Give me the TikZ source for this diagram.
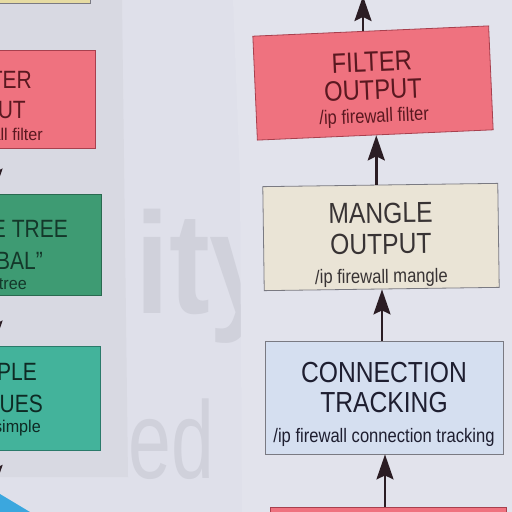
\documentclass[tikz,border=0pt]{standalone}
\usepackage{fontspec}
\setmainfont{Liberation Sans}
\newfontfamily\hdf[FakeStretch=0.85]{Liberation Sans}
\newfontfamily\hdl[FakeStretch=0.84]{Liberation Sans}
\newfontfamily\sbl[FakeStretch=0.95]{Liberation Sans}
\newfontfamily\wmb[FakeStretch=0.85]{Liberation Sans}
\newfontfamily\wmr[FakeStretch=0.7]{Liberation Sans}
\usetikzlibrary{arrows.meta}
\definecolor{midpaper}{HTML}{DFE0EA}
\definecolor{leftpaper}{HTML}{D8D9E2}
\definecolor{rightpaper}{HTML}{E2E3EC}
\definecolor{wmc}{HTML}{D0D1DB}
\definecolor{pinkf}{HTML}{EF727F}
\definecolor{pinkd}{HTML}{A8404E}
\definecolor{pinkt}{HTML}{5A1820}
\definecolor{mangf}{HTML}{EAE4D6}
\definecolor{mangt}{HTML}{383334}
\definecolor{connf}{HTML}{D5DFF0}
\definecolor{connt}{HTML}{1E1E30}
\definecolor{greenf}{HTML}{3E9B73}
\definecolor{greend}{HTML}{2A6A50}
\definecolor{greent}{HTML}{14382A}
\definecolor{tealf}{HTML}{43B39B}
\definecolor{teald}{HTML}{2A7A6A}
\definecolor{tealt}{HTML}{0E2A24}
\definecolor{yelf}{HTML}{E6DBA2}
\definecolor{bluef}{HTML}{3BA7DE}
\definecolor{greyd}{HTML}{7A7A82}
\definecolor{arrowc}{HTML}{2B1D24}
\begin{document}
\begin{tikzpicture}[x=1pt,y=-1pt,
  boxs/.style={draw=#1, line width=0.8pt, inner sep=0pt},
  txt/.style={align=center, inner sep=0pt},
  lhd/.style={anchor=base east, inner sep=0pt, font=\hdl\fontsize{25}{25}\selectfont},
  lsb/.style={anchor=base east, inner sep=0pt, font=\sbl\fontsize{17}{17}\selectfont},
  arr/.style={line width=2.6pt, draw=arrowc, -{Stealth[length=25pt,width=17pt,inset=4pt]}}]
\useasboundingbox (0,0) rectangle (512,512);
\clip (0,0) rectangle (512,512);
\fill[midpaper] (0,0) rectangle (512,512);
% faint text showing through from behind
\node[anchor=base west, inner sep=0pt, text=wmc, font=\wmb\bfseries\fontsize{144}{144}\selectfont] (wmone) at (135,313) {ity};
\node[anchor=base west, inner sep=0pt, text=wmc, font=\wmr\fontsize{110}{110}\selectfont] (wmtwo) at (128,478) {ed};
% sheets
\fill[leftpaper] (0,0) -- (122,0) -- (128,477) -- (0,477) -- cycle;
\fill[rightpaper] (233,0) -- (512,0) -- (512,512) -- (242,512) -- (240,180) -- cycle;
% left column
\node[boxs=greyd, fill=yelf, minimum width=220pt, minimum height=66pt] (mangL) at (-20,-30) {};
\node[boxs=pinkd, fill=pinkf, minimum width=212pt, minimum height=98pt] (filtL) at (-11,99) {};
\node[lhd, text=pinkt] (filtLa) at (32,88) {FILTER};
\node[lhd, text=pinkt] (filtLb) at (26,118) {INPUT};
\node[lsb, text=pinkt] (filtLc) at (43,140) {/ip firewall filter};
\node[boxs=greend, fill=greenf, minimum width=228pt, minimum height=101pt] (treeL) at (-13,244.5) {};
\node[lhd, text=greent] (treeLa) at (68,237) {QUEUE TREE};
\node[lhd, text=greent] (treeLb) at (43,269) {“GLOBAL”};
\node[lsb, text=greent] (treeLc) at (27,289) {/queue tree};
\node[boxs=teald, fill=tealf, minimum width=218pt, minimum height=104pt] (simpL) at (-9,398) {};
\node[lhd, text=tealt] (simpLa) at (37,380) {SIMPLE};
\node[lhd, text=tealt] (simpLb) at (43,412) {QUEUES};
\node[lsb, text=tealt] (simpLc) at (41,432) {/queue simple};
\fill[bluef] (0,494) -- (30,512) -- (0,512) -- cycle;
\coordinate (blueTop) at (-6,490);
\draw[arr] ([xshift=5pt]filtL.south) -- ([xshift=5pt]filtL.south |- treeL.north);
\draw[arr] ([xshift=7pt]treeL.south) -- ([xshift=7pt]treeL.south |- simpL.north);
\draw[arr] ([xshift=3pt]simpL.south) -- (blueTop);
% right column
\node[boxs=pinkd, fill=pinkf, minimum width=236pt, minimum height=104pt, rotate=2.5] (filt) at (373,83) {};
\node[txt, text=pinkt, rotate=2.5, font=\hdf\fontsize{28}{28}\selectfont] (filtT) at (373,89.5)
  {FILTER\\OUTPUT\\[-5pt]{\fontsize{19.5}{20}\selectfont /ip firewall filter}};
\node[boxs=greyd, fill=mangf, minimum width=235pt, minimum height=104pt, rotate=0.8] (mang) at (381,237) {};
\node[txt, text=mangt, rotate=0.8, font=\hdf\fontsize{29}{31}\selectfont] (mangT) at (381,245)
  {MANGLE\\OUTPUT\\[-2pt]{\fontsize{19.5}{20}\selectfont /ip firewall mangle}};
\node[boxs=greyd, fill=connf, minimum width=238pt, minimum height=113pt] (conn) at (384,397.5) {};
\node[txt, text=connt, font=\hdf\fontsize{29}{30}\selectfont] (connT) at (384,404)
  {CONNECTION\\TRACKING\\{\fontsize{19.5}{20}\selectfont /ip firewall connection tracking}};
\node[boxs=pinkd, fill=pinkf, minimum width=236pt, minimum height=66pt] (botp) at (388,540) {};
\coordinate (topEnd) at (363,-4);
\draw[arr] (topEnd |- filt.north) -- (topEnd);
\draw[arr] ([xshift=-4pt]mang.north) -- ([xshift=-4pt]mang.north |- filt.south);
\draw[arr] ([xshift=-2pt]conn.north) -- ([xshift=-2pt]conn.north |- mang.south);
\draw[arr] ([xshift=-3pt]botp.north) -- ([xshift=-3pt]botp.north |- conn.south);
\end{tikzpicture}
\end{document}
